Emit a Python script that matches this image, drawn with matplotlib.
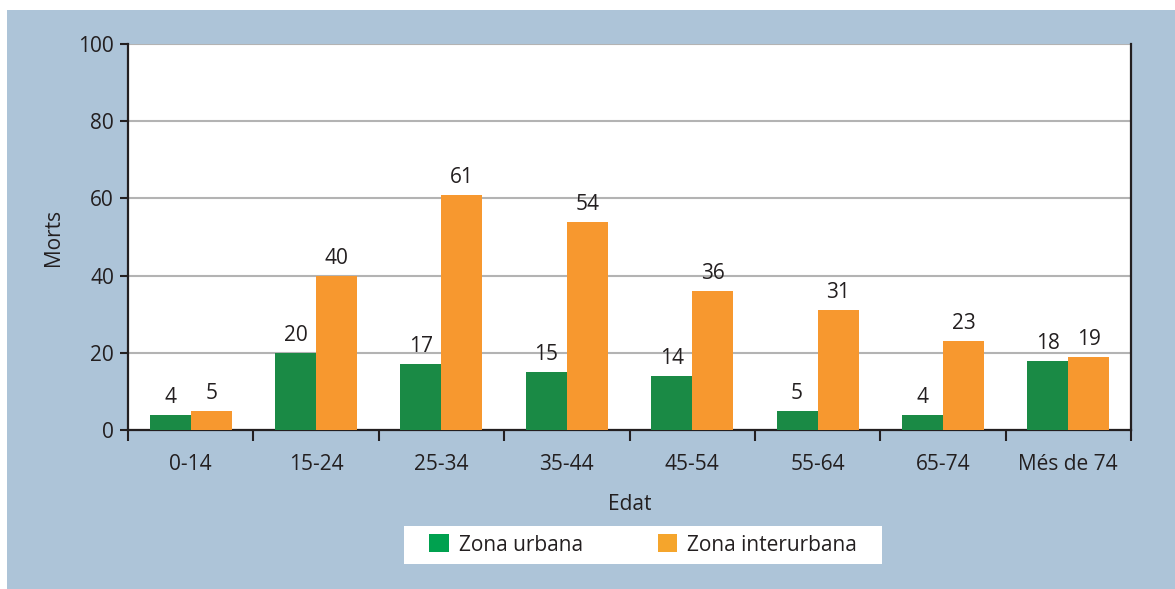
import numpy as np
import matplotlib.pyplot as plt
from matplotlib.patches import Rectangle, Patch

plt.rcParams['font.family'] = ['Open Sans', 'DejaVu Sans']

# deaths by age group
edats = ['0-14', '15-24', '25-34', '35-44', '45-54', '55-64', '65-74', 'Més de 74']
urbana = [4, 20, 17, 15, 14, 5, 4, 18]
interurbana = [5, 40, 61, 54, 36, 31, 23, 19]

txt = '#231f20'
fs = 15
W, H = 1175, 589

fig = plt.figure(figsize=(W/100, H/100), dpi=100, facecolor='white')
# light blue panel behind everything
fig.patches.append(Rectangle((7/W, 0), 1 - 7/W, 1 - 10/H, transform=fig.transFigure,
                             facecolor='#adc4d8', edgecolor='none', zorder=-5))
# white strip holding the legend
fig.patches.append(Rectangle((404/W, 1 - 564/H), (882-404)/W, 38/H, transform=fig.transFigure,
                             facecolor='white', edgecolor='none', zorder=-4))

ax = fig.add_axes([128/W, 1 - 430/H, (1131-128)/W, (430-44)/H])
ax.set_facecolor('white')

x = np.arange(len(edats))
w = 0.327
b1 = ax.bar(x - w/2, urbana, w, color='#1a8a45', zorder=3)
b2 = ax.bar(x + w/2, interurbana, w, color='#f7982f', zorder=3)
ax.bar_label(b1, padding=5, fontsize=fs, color=txt)
ax.bar_label(b2, padding=5, fontsize=fs, color=txt)

ax.set_xlim(-0.5, len(edats) - 0.5)
ax.set_ylim(0, 100)
ax.set_yticks(range(0, 101, 20))
ax.yaxis.grid(True, color='#b3b3b3', lw=1.5, zorder=0)
ax.set_axisbelow(True)

ax.set_xticks(x)
ax.set_xticklabels(edats)
ax.set_xticks(np.arange(-0.5, len(edats)), minor=True)
ax.tick_params(axis='x', which='major', length=0, pad=17, labelsize=fs, colors=txt)
ax.tick_params(axis='x', which='minor', length=8, width=1.5, direction='out', color=txt)
ax.tick_params(axis='y', length=6, width=1.5, direction='out', color=txt, labelsize=fs,
               labelcolor=txt, pad=4)

for s in ['left', 'bottom', 'right']:
    ax.spines[s].set_color(txt)
    ax.spines[s].set_linewidth(1.6)
ax.spines['top'].set_visible(False)

ax.set_ylabel('Morts', fontsize=fs, color=txt, labelpad=10)
ax.set_xlabel('Edat', fontsize=fs, color=txt, labelpad=14)

handles = [Patch(facecolor='#00a14f'), Patch(facecolor='#f5a52c')]
leg = fig.legend(handles, ['Zona urbana', 'Zona interurbana'], ncol=2,
                 loc='center', bbox_to_anchor=(643/W, 1 - 545/H),
                 fontsize=fs, frameon=False,
                 handlelength=0.95, handleheight=0.95, handletextpad=0.45,
                 columnspacing=3.6, borderpad=0.4, borderaxespad=0)
for t in leg.get_texts():
    t.set_color(txt)

fig.savefig('out.png', dpi=100, facecolor='white')
